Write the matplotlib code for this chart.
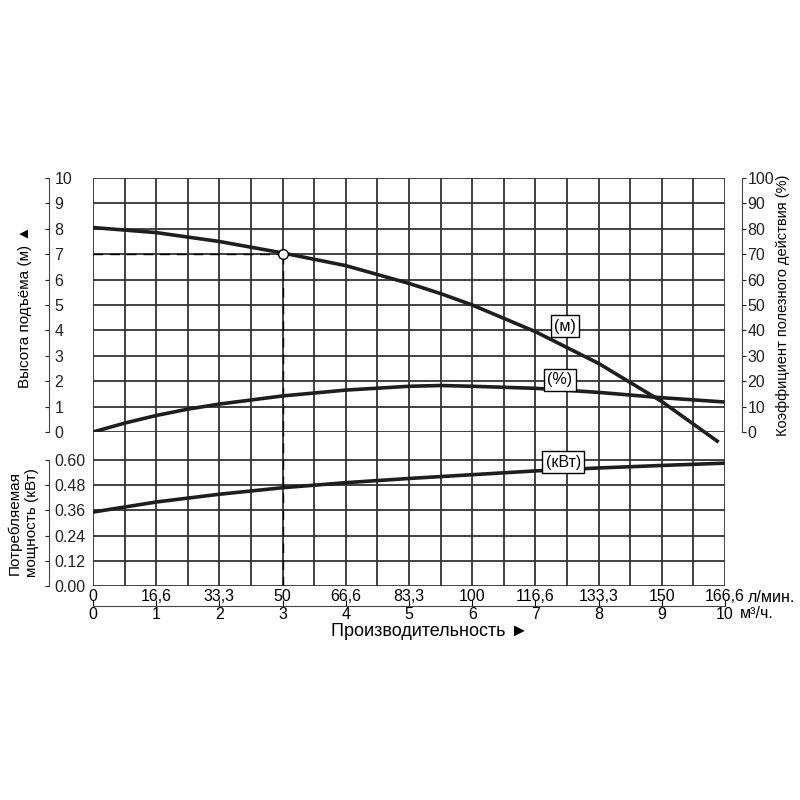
import matplotlib
matplotlib.use("Agg")
import matplotlib.pyplot as plt
import numpy as np

plt.rcParams['font.family'] = ['Liberation Sans', 'DejaVu Sans']
plt.rcParams['font.size'] = 11

# flow, m3/h
q = [0, 1, 2, 3, 4, 5, 5.5, 6, 7, 8, 9, 9.9]
# head, m
head = [8.05, 7.85, 7.5, 7.05, 6.55, 5.85, 5.45, 5.0, 3.95, 2.7, 1.2, -0.4]
q_eff = [0, 0.5, 1, 1.5, 2, 3, 4, 5, 5.5, 6, 7, 8, 9, 10]
# efficiency, %
eff = [0, 3.5, 6.5, 9, 11, 14.2, 16.5, 18, 18.3, 18, 17.2, 15.6, 13.5, 11.8]
q_pow = [0, 1, 2, 3, 4, 5, 6, 7, 8, 9, 10]
# power, kW
power = [0.352, 0.40, 0.437, 0.468, 0.492, 0.512, 0.53, 0.548, 0.562, 0.574, 0.585]

lpm_labels = ['0', '16,6', '33,3', '50', '66,6', '83,3', '100', '116,6', '133,3', '150', '166,6']
m3h_labels = [str(i) for i in range(11)]

op_q, op_h = 3, 7.0

W = 800.0
PT = 0.72  # points per pixel at dpi 100
gridc = '#333333'
curvec = '#1e1e1e'
tsize = 11.5

fig = plt.figure(figsize=(8, 8), dpi=100)

# bottom panel (power), extended up to the head panel so vertical grid is continuous
axp = fig.add_axes([93 / W, 1 - 586 / W, 632 / W, 154 / W])
pmax = 0.60 * 154 / 126
axp.set_xlim(0, 10)
axp.set_ylim(0, pmax)
xt = np.arange(0, 10.01, 0.5)
axp.set_xticks(xt)
axp.set_xticklabels([lpm_labels[int(v)] if v == int(v) else '' for v in xt])
axp.tick_params(axis='x', length=0, pad=2, labelsize=tsize)
axp.set_yticks([0, 0.12, 0.24, 0.36, 0.48, 0.60])
axp.set_yticklabels(['0.00', '0.12', '0.24', '0.36', '0.48', '0.60'])
axp.grid(True, color=gridc, lw=1.3)
for s in ['top', 'right', 'bottom']:
    axp.spines[s].set_visible(False)
axp.spines['left'].set_position(('outward', 44 * PT))
axp.spines['left'].set_bounds(0, 0.60)
axp.spines['left'].set_color('#444444')
axp.tick_params(axis='y', direction='out', length=3, pad=-7, colors='#222222', labelsize=tsize)
for t in axp.get_yticklabels():
    t.set_horizontalalignment('left')
axp.plot(q_pow, power, color=curvec, lw=2.6, solid_capstyle='butt')
axp.plot([op_q, op_q], [0, pmax], color='black', lw=1, dashes=(7, 5))
axp.text(7.44, 0.59, '(кВт)', ha='center', va='center', fontsize=11.5,
         bbox=dict(boxstyle='square,pad=0.2', fc='white', ec='black', lw=1))

# second flow scale, m3/h
sec = axp.secondary_xaxis(-20 / 154)
sec.set_xticks(range(11))
sec.set_xticklabels(m3h_labels)
sec.tick_params(axis='x', direction='in', length=4, pad=1, labelsize=tsize)
sec.spines['bottom'].set_color('#444444')

# top panel (head + efficiency)
axh = fig.add_axes([93 / W, 1 - 432 / W, 632 / W, 254 / W])
axh.set_xlim(0, 10)
axh.set_ylim(0, 10)
axh.set_xticks(xt)
axh.tick_params(axis='x', length=0, labelbottom=False)
axh.set_yticks(range(11))
axh.grid(True, color=gridc, lw=1.3)
for s in ['top', 'right', 'bottom']:
    axh.spines[s].set_visible(False)
axh.spines['left'].set_position(('outward', 44 * PT))
axh.spines['left'].set_color('#444444')
axh.tick_params(axis='y', direction='out', length=3, pad=-7, colors='#222222', labelsize=tsize)
for t in axh.get_yticklabels():
    t.set_horizontalalignment('left')

axh.plot(q, head, color=curvec, lw=2.6, clip_on=False, solid_capstyle='butt')
axh.plot([0, op_q], [op_h, op_h], color='black', lw=1, dashes=(7, 5))
axh.plot([op_q, op_q], [op_h, 0], color='black', lw=1, dashes=(7, 5))
axh.plot([op_q], [op_h], 'o', ms=7, mfc='white', mec='black', mew=1, zorder=5)
axh.text(7.47, 4.17, '(м)', ha='center', va='center', fontsize=11.5,
         bbox=dict(boxstyle='square,pad=0.2', fc='white', ec='black', lw=1))

axe = axh.twinx()
axe.set_ylim(0, 100)
axe.set_yticks(range(0, 101, 10))
for s in ['top', 'left', 'bottom']:
    axe.spines[s].set_visible(False)
axe.spines['right'].set_position(('outward', 17 * PT))
axe.spines['right'].set_color('#444444')
axe.tick_params(axis='y', direction='out', length=3, pad=1, colors='#222222', labelsize=tsize)
axe.plot(q_eff, eff, color=curvec, lw=2.6, solid_capstyle='butt')
axe.text(7.39, 20.5, '(%)', ha='center', va='center', fontsize=11.5,
         bbox=dict(boxstyle='square,pad=0.2', fc='white', ec='black', lw=1))

# axis titles
fig.text(25 / W, 1 - 307 / W, 'Высота подъёма (м) ▲', rotation=90, ha='center', va='center', fontsize=11)
fig.text(783 / W, 1 - 305 / W, 'Коэффициент полезного действия (%)', rotation=90,
         ha='center', va='center', fontsize=10.5)
fig.text(23 / W, 1 - 523 / W, 'Потребляемая\nмощность (кВт)', rotation=90, ha='center',
         va='center', fontsize=11, linespacing=1.35)
fig.text(430 / W, 1 - 631 / W, 'Производительность ►', ha='center', va='center', fontsize=13)
fig.text(748 / W, 1 - 598 / W, 'л/мин.', ha='left', va='center', fontsize=tsize)
fig.text(740 / W, 1 - 614 / W, 'м³/ч.', ha='left', va='center', fontsize=tsize)

fig.savefig('out.png', dpi=100, facecolor='white')
